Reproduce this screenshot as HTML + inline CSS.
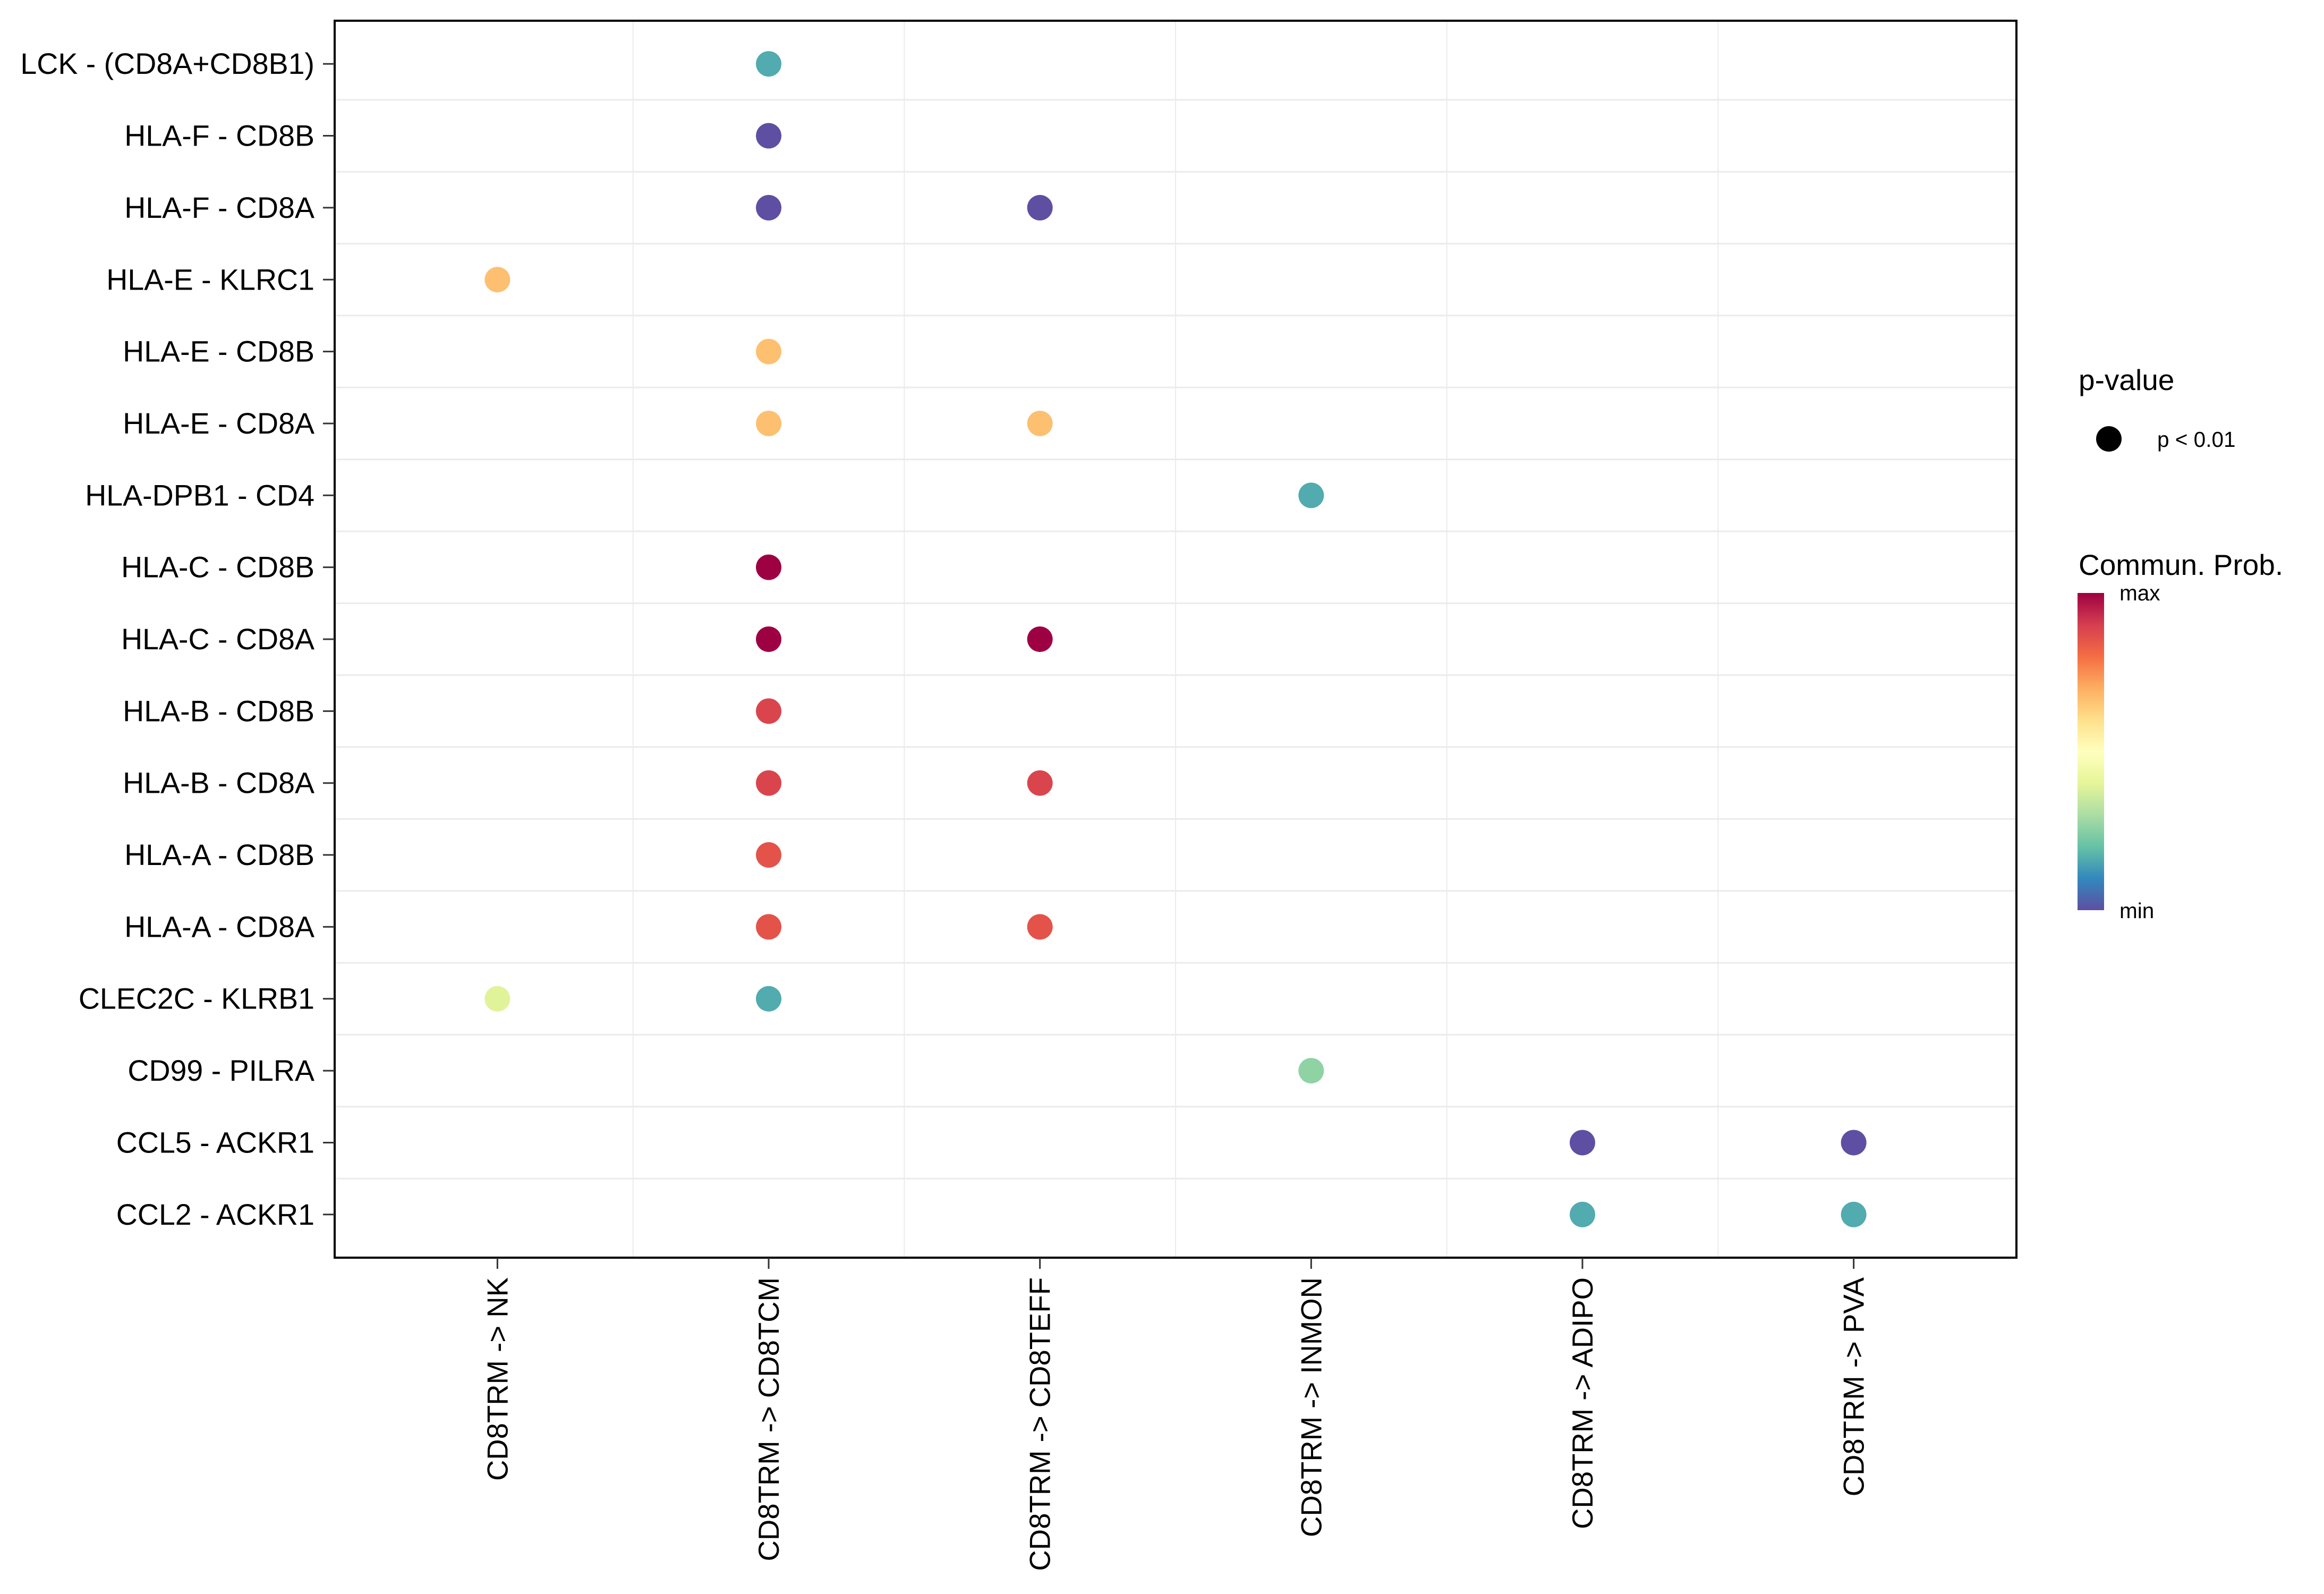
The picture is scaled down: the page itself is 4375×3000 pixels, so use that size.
<!DOCTYPE html>
<html><head><meta charset="utf-8"><style>
html,body{margin:0;padding:0;background:#fff;}
svg{display:block;font-family:"Liberation Sans",sans-serif;}
</style></head><body>
<svg id="chart" width="4375" height="3000" viewBox="0 0 4375 3000" xmlns="http://www.w3.org/2000/svg">
<rect x="0" y="0" width="4375" height="3000" fill="#fff"/>
<g id="grid"></g>
<g id="dots"></g>
<rect x="630" y="39" width="3166" height="2328" fill="none" stroke="#000" stroke-width="4"/>
<g id="yaxis"></g>
<g id="xaxis"></g>
<g>
<text x="3913" y="734" font-size="55">p-value</text>
<circle cx="3970" cy="826" r="24" fill="#000"/>
<text x="4061" y="841" font-size="40.5">p &lt; 0.01</text>
</g>
<g>
<defs><linearGradient id="spec" x1="0" y1="1" x2="0" y2="0">
<stop offset="0" stop-color="#5E4FA2"/><stop offset="0.1" stop-color="#3288BD"/><stop offset="0.2" stop-color="#66C2A5"/><stop offset="0.3" stop-color="#ABDDA4"/><stop offset="0.4" stop-color="#E6F598"/><stop offset="0.5" stop-color="#FFFFBF"/><stop offset="0.6" stop-color="#FEE08B"/><stop offset="0.7" stop-color="#FDAE61"/><stop offset="0.8" stop-color="#F46D43"/><stop offset="0.9" stop-color="#D53E4F"/><stop offset="1" stop-color="#9E0142"/>
</linearGradient></defs>
<text x="3913" y="1082" font-size="55">Commun. Prob.</text>
<rect x="3911" y="1116" width="50" height="597" fill="url(#spec)"/>
<text x="3990" y="1130" font-size="40.5">max</text>
<text x="3990" y="1728" font-size="40.5">min</text>
</g>
</svg>
<script>
const rows = ["LCK - (CD8A+CD8B1)","HLA-F - CD8B","HLA-F - CD8A","HLA-E - KLRC1","HLA-E - CD8B","HLA-E - CD8A","HLA-DPB1 - CD4","HLA-C - CD8B","HLA-C - CD8A","HLA-B - CD8B","HLA-B - CD8A","HLA-A - CD8B","HLA-A - CD8A","CLEC2C - KLRB1","CD99 - PILRA","CCL5 - ACKR1","CCL2 - ACKR1"];
const cols = ["CD8TRM -> NK","CD8TRM -> CD8TCM","CD8TRM -> CD8TEFF","CD8TRM -> INMON","CD8TRM -> ADIPO","CD8TRM -> PVA"];
const pointRow = ["LCK - (CD8A+CD8B1)","HLA-F - CD8B","HLA-F - CD8A","HLA-F - CD8A","HLA-E - KLRC1","HLA-E - CD8B","HLA-E - CD8A","HLA-E - CD8A","HLA-DPB1 - CD4","HLA-C - CD8B","HLA-C - CD8A","HLA-C - CD8A","HLA-B - CD8B","HLA-B - CD8A","HLA-B - CD8A","HLA-A - CD8B","HLA-A - CD8A","HLA-A - CD8A","CLEC2C - KLRB1","CLEC2C - KLRB1","CD99 - PILRA","CCL5 - ACKR1","CCL5 - ACKR1","CCL2 - ACKR1","CCL2 - ACKR1"];
const pointCol = ["CD8TRM -> CD8TCM","CD8TRM -> CD8TCM","CD8TRM -> CD8TCM","CD8TRM -> CD8TEFF","CD8TRM -> NK","CD8TRM -> CD8TCM","CD8TRM -> CD8TCM","CD8TRM -> CD8TEFF","CD8TRM -> INMON","CD8TRM -> CD8TCM","CD8TRM -> CD8TCM","CD8TRM -> CD8TEFF","CD8TRM -> CD8TCM","CD8TRM -> CD8TCM","CD8TRM -> CD8TEFF","CD8TRM -> CD8TCM","CD8TRM -> CD8TCM","CD8TRM -> CD8TEFF","CD8TRM -> NK","CD8TRM -> CD8TCM","CD8TRM -> INMON","CD8TRM -> ADIPO","CD8TRM -> PVA","CD8TRM -> ADIPO","CD8TRM -> PVA"];
const pointProb = [0.16,0,0,0,0.665,0.665,0.665,0.665,0.16,1,1,1,0.885,0.885,0.885,0.855,0.855,0.855,0.39,0.16,0.26,0,0,0.16,0.16];

const NS="http://www.w3.org/2000/svg";
const L=630,R=3796,T=39,B=2367;
const cw=(R-L)/(cols.length-1+1.2), rh=(B-T)/(rows.length-1+1.2);
function xScale(c){return L+cw*(0.6+cols.indexOf(c));}
function yScale(r){return T+rh*(0.6+rows.indexOf(r));}
const stops=["#5E4FA2","#3288BD","#66C2A5","#ABDDA4","#E6F598","#FFFFBF","#FEE08B","#FDAE61","#F46D43","#D53E4F","#9E0142"];
function hex(h){return [1,3,5].map(i=>parseInt(h.substr(i,2),16));}
function colorScale(v){v=Math.max(0,Math.min(1,v));const p=v*10,i=Math.min(9,Math.floor(p)),t=p-i;const a=hex(stops[i]),b=hex(stops[i+1]);return "rgb("+a.map((x,k)=>Math.round(x+(b[k]-x)*t)).join(",")+")";}
function mk(tag,attrs,parent){const e=document.createElementNS(NS,tag);for(const k in attrs)e.setAttribute(k,attrs[k]);parent.appendChild(e);return e;}

const grid=document.getElementById('grid');
for(let i=0;i<cols.length-1;i++){const x=L+cw*(1.1+i);
const g=mk('line',{x1:x,x2:x,y1:T,y2:B,stroke:'#EBEBEB','stroke-width':2},grid);

}
for(let i=0;i<rows.length-1;i++){const y=T+rh*(1.1+i);
const g=mk('line',{x1:L,x2:R,y1:y,y2:y,stroke:'#EBEBEB','stroke-width':3},grid);

}

const ya=document.getElementById('yaxis');
rows.forEach(r=>{const y=yScale(r);
const tk=mk('line',{x1:608,x2:L,y1:y,y2:y,stroke:'#333','stroke-width':3},ya);


const t=mk('text',{x:592,y:y+19,'font-size':55.5,'text-anchor':'end',fill:'#000'},ya);t.textContent=r;

});

const xa=document.getElementById('xaxis');
cols.forEach(c=>{const x=xScale(c);
const tk=mk('line',{x1:x,x2:x,y1:B,y2:B+21,stroke:'#333','stroke-width':3},xa);


const t=mk('text',{x:0,y:0,'font-size':54.5,'text-anchor':'end',fill:'#000',transform:'translate('+(x+19)+',2404) rotate(-90)'},xa);t.textContent=c;

});

const dots=document.getElementById('dots');
pointProb.forEach((v,i)=>{
const d=mk('circle',{cx:xScale(pointCol[i]),cy:yScale(pointRow[i]),r:24,fill:colorScale(v)},dots);

});
</script>
</body></html>
